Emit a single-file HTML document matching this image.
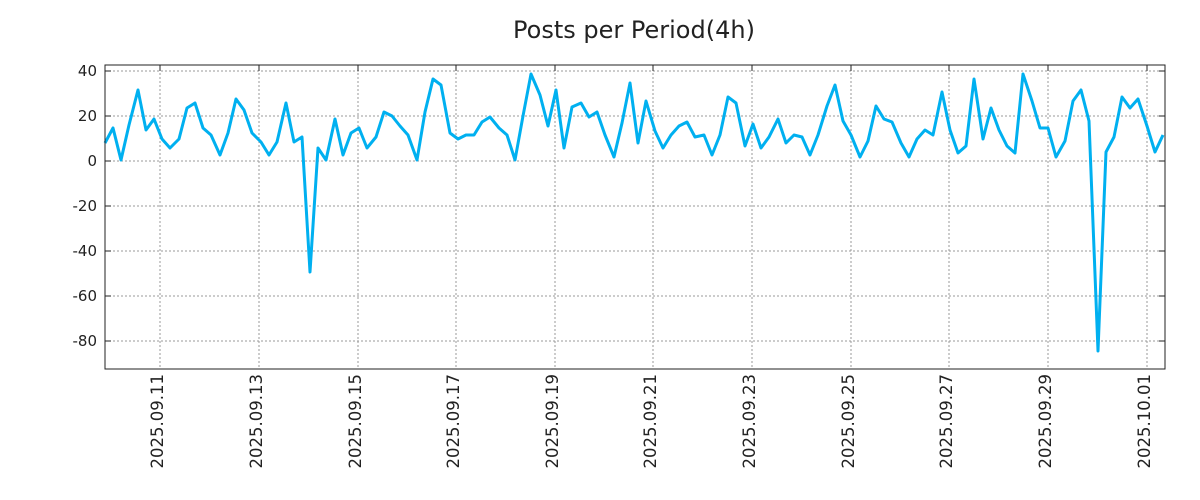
<!DOCTYPE html>
<html><head><meta charset="utf-8"><style>
body{margin:0;background:#fff;}
svg{display:block;font-family:"DejaVu Sans","Liberation Sans",sans-serif;}
</style></head><body>
<svg width="1200" height="500" viewBox="0 0 1200 500" xmlns="http://www.w3.org/2000/svg">
<rect width="1200" height="500" fill="#fff"/>
<text x="634" y="38" text-anchor="middle" font-size="24" fill="#222">Posts per Period(4h)</text>
<g stroke="#999" stroke-width="1" stroke-dasharray="2,2">
<line x1="105" x2="1165" y1="71" y2="71"/><line x1="105" x2="1165" y1="116" y2="116"/>
<line x1="105" x2="1165" y1="161" y2="161"/><line x1="105" x2="1165" y1="206" y2="206"/>
<line x1="105" x2="1165" y1="251" y2="251"/><line x1="105" x2="1165" y1="296" y2="296"/>
<line x1="105" x2="1165" y1="341" y2="341"/>
<line x1="160" x2="160" y1="65" y2="369"/><line x1="259" x2="259" y1="65" y2="369"/>
<line x1="358" x2="358" y1="65" y2="369"/><line x1="456" x2="456" y1="65" y2="369"/>
<line x1="555" x2="555" y1="65" y2="369"/><line x1="653" x2="653" y1="65" y2="369"/>
<line x1="752" x2="752" y1="65" y2="369"/><line x1="851" x2="851" y1="65" y2="369"/>
<line x1="949" x2="949" y1="65" y2="369"/><line x1="1048" x2="1048" y1="65" y2="369"/>
<line x1="1147" x2="1147" y1="65" y2="369"/>
</g>
<polyline fill="none" stroke="#00b0f0" stroke-width="3" stroke-linejoin="round" points="105,143 113,128 121,160 129,125 138,90 146,130 154,119 162,139 170,148 179,139 187,108 195,103 203,128 211,135 220,155 228,133 236,99 244,110 252,133 261,142 269,155 277,142 286,103 294,142 302,137 310,272 318,148 326,160 335,119 343,155 351,133 359,128 367,148 376,137 384,112 392,116 400,126 408,135 417,160 425,112 433,79 441,85 450,133 458,139 466,135 474,135 482,122 490,117 499,128 507,135 515,160 523,116 531,74 540,95 548,126 556,90 564,148 572,107 581,103 589,117 597,112 605,135 614,157 622,123 630,83 638,143 646,101 655,131 663,148 671,135 679,126 687,122 695,137 704,135 712,155 720,135 728,97 736,103 745,146 753,124 761,148 769,137 778,119 786,143 794,135 802,137 810,155 818,135 827,106 835,85 843,121 851,135 860,157 868,141 876,106 884,119 892,122 901,143 909,157 917,139 925,130 933,135 942,92 950,130 958,153 966,146 974,79 983,139 991,108 999,130 1007,146 1015,153 1023,74 1032,101 1040,128 1048,128 1056,157 1065,141 1073,101 1081,90 1089,121 1098,351 1106,152 1114,137 1122,97 1130,108 1138,99 1147,126 1155,152 1163,135"/>
<rect x="105" y="65" width="1060" height="304" fill="none" stroke="#222" stroke-width="1"/>
<g stroke="#222" stroke-width="1">
<line x1="105" x2="111" y1="71" y2="71"/><line x1="105" x2="111" y1="116" y2="116"/><line x1="105" x2="111" y1="161" y2="161"/><line x1="105" x2="111" y1="206" y2="206"/><line x1="105" x2="111" y1="251" y2="251"/><line x1="105" x2="111" y1="296" y2="296"/><line x1="105" x2="111" y1="341" y2="341"/>
<line x1="1159" x2="1165" y1="71" y2="71"/><line x1="1159" x2="1165" y1="116" y2="116"/><line x1="1159" x2="1165" y1="161" y2="161"/><line x1="1159" x2="1165" y1="206" y2="206"/><line x1="1159" x2="1165" y1="251" y2="251"/><line x1="1159" x2="1165" y1="296" y2="296"/><line x1="1159" x2="1165" y1="341" y2="341"/>
<line x1="160" x2="160" y1="65" y2="71"/><line x1="259" x2="259" y1="65" y2="71"/><line x1="358" x2="358" y1="65" y2="71"/><line x1="456" x2="456" y1="65" y2="71"/><line x1="555" x2="555" y1="65" y2="71"/><line x1="653" x2="653" y1="65" y2="71"/><line x1="752" x2="752" y1="65" y2="71"/><line x1="851" x2="851" y1="65" y2="71"/><line x1="949" x2="949" y1="65" y2="71"/><line x1="1048" x2="1048" y1="65" y2="71"/><line x1="1147" x2="1147" y1="65" y2="71"/>
</g>
<g font-size="15" fill="#222" text-anchor="end">
<text x="97" y="76">40</text><text x="97" y="121">20</text><text x="97" y="166">0</text>
<text x="97" y="211">-20</text><text x="97" y="256">-40</text><text x="97" y="301">-60</text><text x="97" y="346">-80</text>
</g>
<g font-size="16.5" fill="#222" text-anchor="end">
<text transform="translate(163,374) rotate(-90)">2025.09.11</text>
<text transform="translate(262,374) rotate(-90)">2025.09.13</text>
<text transform="translate(361,374) rotate(-90)">2025.09.15</text>
<text transform="translate(459,374) rotate(-90)">2025.09.17</text>
<text transform="translate(558,374) rotate(-90)">2025.09.19</text>
<text transform="translate(656,374) rotate(-90)">2025.09.21</text>
<text transform="translate(755,374) rotate(-90)">2025.09.23</text>
<text transform="translate(854,374) rotate(-90)">2025.09.25</text>
<text transform="translate(952,374) rotate(-90)">2025.09.27</text>
<text transform="translate(1051,374) rotate(-90)">2025.09.29</text>
<text transform="translate(1150,374) rotate(-90)">2025.10.01</text>
</g>
</svg>
</body></html>
